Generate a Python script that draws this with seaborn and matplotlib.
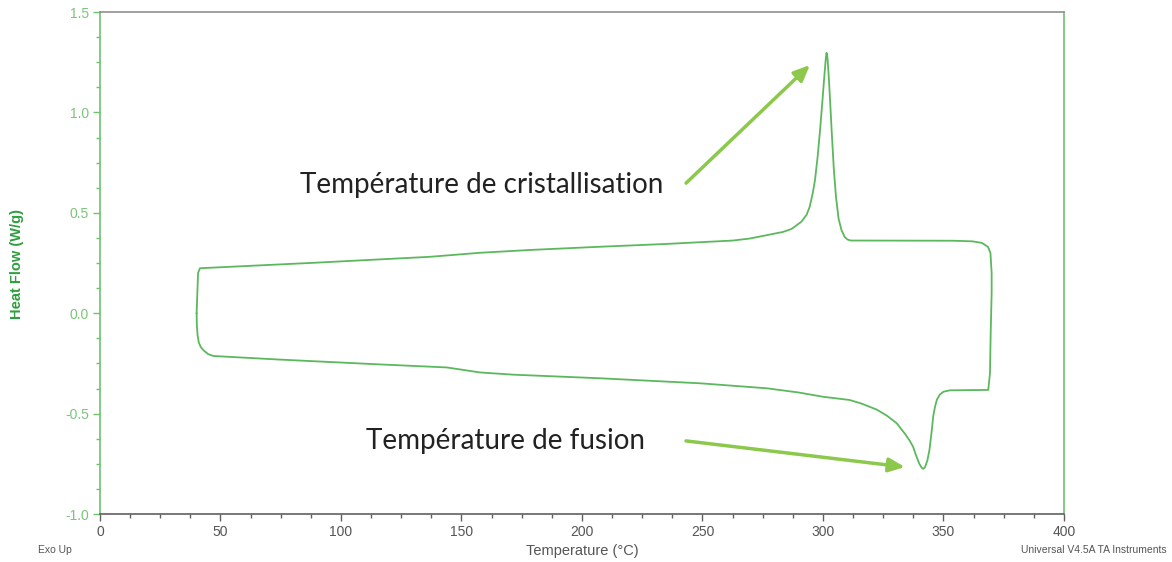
import matplotlib
matplotlib.use("Agg")
import matplotlib.pyplot as plt
import pandas as pd
import seaborn as sns
from matplotlib.ticker import MultipleLocator

# heating run (endotherm down), left to right
heating_temp = [40.1, 40.2, 40.5, 41.0, 41.8, 43.0, 44.8, 47.0, 74.7, 116.2,
                143.9, 157.7, 171.4, 207.5, 249.0, 276.8, 290.0, 300.0, 311.0, 316.0,
                322.3, 326.5, 330.6, 334.0, 336.0, 337.4, 338.7, 340.0, 341.0, 341.6,
                342.3, 343.3, 344.2, 345.0, 345.8, 346.5, 347.3, 348.5, 350.0, 352.7,
                368.6, 369.3, 369.6, 370.0]
heating_flow = [0.0, -0.06, -0.11, -0.145, -0.168, -0.185, -0.203, -0.213, -0.231, -0.255,
                -0.27, -0.295, -0.306, -0.324, -0.349, -0.374, -0.395, -0.416, -0.432, -0.45,
                -0.48, -0.51, -0.548, -0.6, -0.635, -0.665, -0.71, -0.75, -0.77, -0.775,
                -0.768, -0.735, -0.68, -0.6, -0.51, -0.466, -0.43, -0.405, -0.391, -0.384,
                -0.382, -0.30, -0.10, 0.10]

# cooling run (exotherm up), right to left
cooling_temp = [370.0, 369.5, 368.5, 366.0, 362.0, 354.0, 311.5, 310.2, 309.0, 307.7,
                306.5, 305.4, 304.5, 303.6, 303.0, 302.4, 301.9, 301.5, 301.2, 300.7,
                299.8, 298.8, 297.8, 296.7, 295.8, 294.5, 293.2, 291.0, 287.0, 283.5,
                269.7, 262.7, 235.0, 207.5, 178.4, 157.7, 137.0, 88.5, 41.5, 40.7,
                40.1]
cooling_flow = [0.20, 0.30, 0.33, 0.35, 0.358, 0.361, 0.362, 0.367, 0.38, 0.414,
                0.47, 0.58, 0.72, 0.912, 1.05, 1.18, 1.27, 1.297, 1.27, 1.2,
                1.06, 0.912, 0.78, 0.663, 0.6, 0.53, 0.49, 0.455, 0.42, 0.405,
                0.372, 0.362, 0.345, 0.331, 0.315, 0.301, 0.281, 0.251, 0.224, 0.2,
                0.0]

df = pd.DataFrame({
    "temp": heating_temp + cooling_temp,
    "flow": heating_flow + cooling_flow,
})

sns.set_theme(style="white")
plt.rcParams["font.family"] = ["Liberation Sans", "DejaVu Sans"]

fig = plt.figure(figsize=(11.72, 5.62), dpi=100)
ax = fig.add_axes([0.0853, 0.0854, 0.8225, 0.8932])

sns.lineplot(data=df, x="temp", y="flow", sort=False, estimator=None,
             color="#5cb85c", linewidth=1.3, ax=ax)

ax.set_xlim(0, 400)
ax.set_ylim(-1.0, 1.5)
ax.xaxis.set_major_locator(MultipleLocator(50))
ax.xaxis.set_minor_locator(MultipleLocator(12.5))
ax.yaxis.set_major_locator(MultipleLocator(0.5))
ax.yaxis.set_minor_locator(MultipleLocator(0.125))
ax.yaxis.set_major_formatter(matplotlib.ticker.FormatStrFormatter("%.1f"))

green_axis = "#6cc46c"
ax.spines["left"].set_color(green_axis)
ax.spines["right"].set_color(green_axis)
ax.spines["top"].set_color("#909090")
ax.spines["bottom"].set_color("#606060")
for s in ax.spines.values():
    s.set_linewidth(1.2)

ax.tick_params(axis="x", which="major", direction="out", length=5, width=1,
               colors="#606060", labelsize=10, labelcolor="#555555", pad=3, bottom=True)
ax.tick_params(axis="x", which="minor", direction="out", length=3, width=1,
               colors="#606060", bottom=True)
ax.tick_params(axis="y", which="major", direction="out", length=5, width=1,
               colors=green_axis, labelsize=10, labelcolor="#7cc47c", pad=3, left=True)
ax.tick_params(axis="y", which="minor", direction="out", length=3, width=1,
               colors=green_axis, left=True)

ax.set_xlabel("")
ax.set_ylabel("")
fig.text(0.4966, 0.019, "Temperature (°C)", ha="center", va="center",
         fontsize=10.5, color="#555555")
fig.text(0.0145, 0.53, "Heat Flow (W/g)", ha="center", va="center", rotation=90,
         fontsize=10.5, color="#2e9e3e", fontweight="bold")
fig.text(0.032, 0.021, "Exo Up", ha="left", va="center", fontsize=7.5, color="#555555")
fig.text(0.995, 0.021, "Universal V4.5A TA Instruments", ha="right", va="center",
         fontsize=7.5, color="#555555")

# annotations
ann_font = ["Lato", "DejaVu Sans"]
arrow_green = "#8cc84b"
ax.text(83.0, 0.638, "Température de cristallisation", ha="left", va="center",
        fontsize=20, color="#222222", family=ann_font)
ax.text(110.4, -0.636, "Température de fusion", ha="left", va="center",
        fontsize=20, color="#222222", family=ann_font)
ax.annotate("", xy=(294.6, 1.236), xytext=(243.2, 0.648),
            arrowprops=dict(arrowstyle="-|>,head_length=0.8,head_width=0.35",
                            color=arrow_green, lw=2.5, shrinkA=0, shrinkB=0))
ax.annotate("", xy=(334.0, -0.766), xytext=(243.2, -0.636),
            arrowprops=dict(arrowstyle="-|>,head_length=0.8,head_width=0.35",
                            color=arrow_green, lw=2.5, shrinkA=0, shrinkB=0))

fig.savefig("out.png", dpi=100)
